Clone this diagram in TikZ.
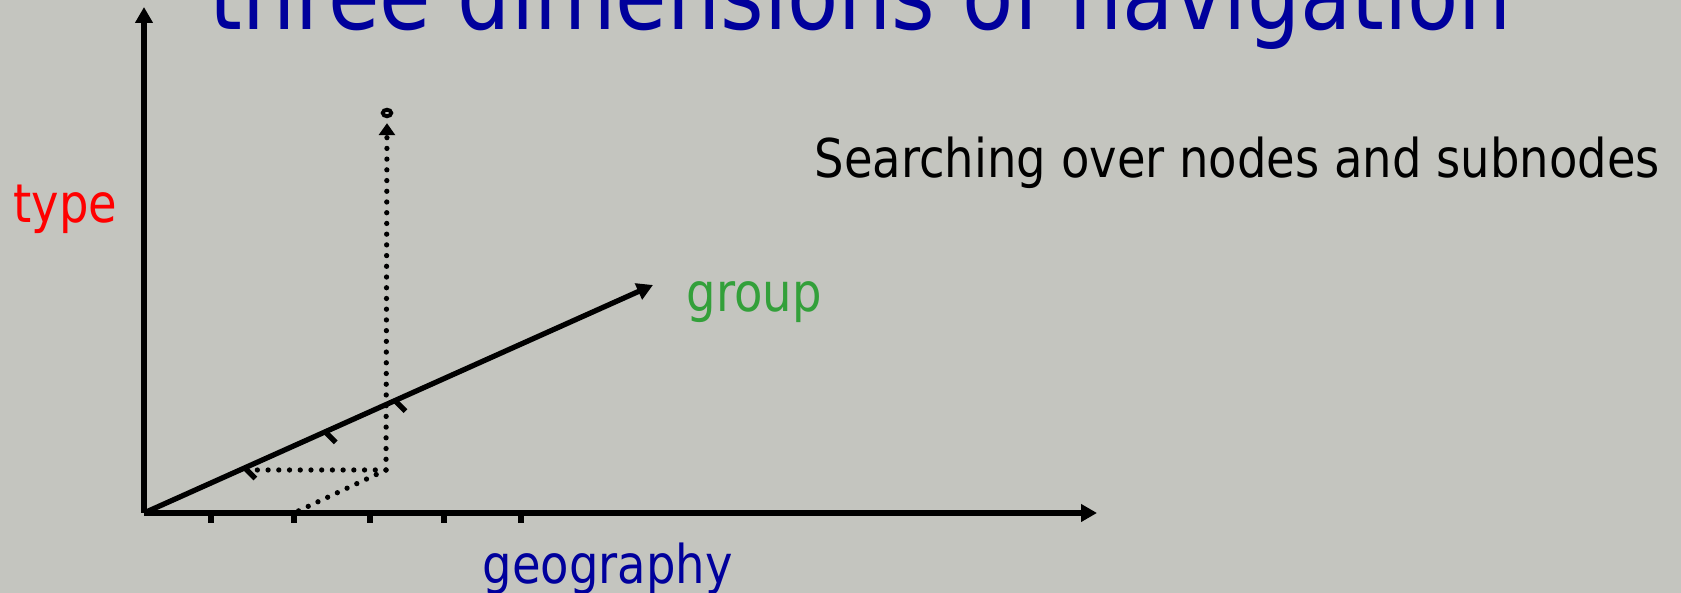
\documentclass[tikz,border=0pt]{standalone}
\usepackage{xcolor}
\usepackage{fontspec}
\setmainfont{DejaVu Sans}[FakeStretch=0.87]
\usetikzlibrary{arrows.meta,shapes.geometric}
\definecolor{NavBack}{HTML}{C4C5BF}
\definecolor{NavBlue}{HTML}{00009C}
\definecolor{NavRed}{HTML}{FF0000}
\definecolor{NavGreen}{HTML}{33A03A}

\begin{document}
\begin{tikzpicture}[x=1cm,y=1cm,
  axis/.style={line width=1.5pt,-{Triangle[length=0.16cm,width=0.17cm]}},
  axistick/.style={line width=1.5pt},
  dotline/.style={line width=1.5pt,line cap=round,dash pattern=on 0pt off 3.05pt},
  ring/.style={ellipse,draw,line width=1.1pt,inner sep=0pt,minimum width=0.085cm,minimum height=0.065cm},
  navtext/.style={anchor=base west,inner sep=0pt,font=\fontsize{15.2}{18}\selectfont}]
\path[use as bounding box] (0,0) rectangle (16.81,5.93);
\fill[NavBack] (0,0) rectangle (16.81,5.93);
\node[navtext,font=\fontsize{27.4}{31}\selectfont,text=NavBlue] (title) at (2.09,5.63) {three dimensions of navigation};
\coordinate (o) at (1.44,0.80);
\coordinate (ytip) at (1.44,5.86);
\coordinate (xtip) at (10.97,0.80);
\coordinate (gtip) at (6.53,3.08);
\draw[axis] (o) -- (ytip);
\draw[axis] (o) -- (xtip);
\draw[axis] (o) -- (gtip);
\foreach \x [count=\i] in {2.11,2.94,3.70,4.44,5.21}
  \draw[axistick] (\x,0.80) coordinate (xt\i) -- ++(0,-0.10);
\foreach \t [count=\i] in {0.198,0.356,0.493}{
  \path (o) -- (gtip) coordinate[pos=\t] (gt\i);
  \draw[axistick] (gt\i) -- ++(-45:0.15);
}
\coordinate (p) at (3.86,1.23);
\coordinate (ph) at (2.53,1.23);
\node[ring] (top) at (3.87,4.80) {};
\draw[dotline] (p) -- (ph);
\draw[dotline,shorten <=0.05cm,shorten >=0.1cm] (xt2) -- (p);
\draw[dotline,-{Triangle[length=0.12cm,width=0.16cm]},shorten >=0.05cm] (p) -- (top.south);
\node[navtext] (search) at (8.14,4.15) {Searching over nodes and subnodes};
\node[navtext,text=NavRed] (type) at (0.13,3.70) {type};
\node[navtext,text=NavGreen] (group) at (6.86,2.81) {group};
\node[navtext,text=NavBlue] (geo) at (4.82,0.09) {geography};
\end{tikzpicture}
\end{document}
